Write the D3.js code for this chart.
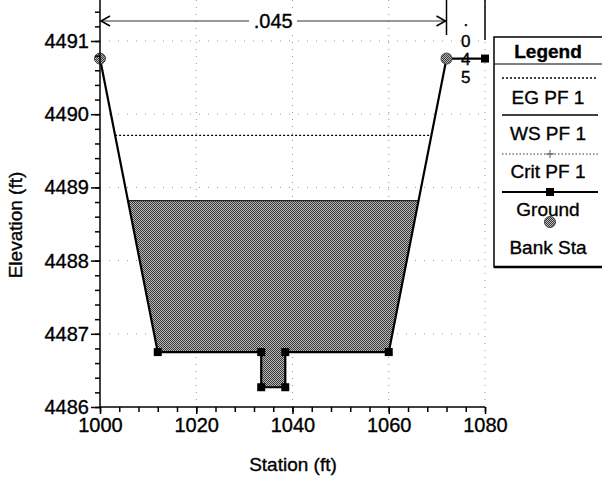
<!DOCTYPE html>
<html>
<head>
<meta charset="utf-8">
<script src="https://cdn.jsdelivr.net/npm/d3@7"></script>
<style>
  body { margin: 0; background: #fff; overflow: hidden; }
  text { font-family: "Liberation Sans", Arial, sans-serif; fill: #000; stroke: #000; stroke-width: 0.35; }
</style>
</head>
<body>
<div id="chartArea"></div>
<script>
const svgWidth = 602;
const svgHeight = 480;

// cross section data
const stations = [1000, 1012, 1033.5, 1033.5, 1038.5, 1038.5, 1060, 1072, 1080];
const elevations = [4490.76, 4486.75, 4486.75, 4486.27, 4486.27, 4486.75, 4486.75, 4490.76, 4490.76];
const bankStations = [1000, 1072];
const bankElevations = [4490.76, 4490.76];
const wsElevation = 4488.82;
const egElevation = 4489.71;
const nValues = ['.045', '.045'];
const xTicks = [1000, 1020, 1040, 1060, 1080];
const yTicks = [4486, 4487, 4488, 4489, 4490, 4491];
const legendItems = ['EG PF 1', 'WS PF 1', 'Crit PF 1', 'Ground', 'Bank Sta'];

const x = d3.scaleLinear().domain([1000, 1080]).range([100, 485]);
const y = d3.scaleLinear().domain([4486, 4491.56]).range([407, 0]);

const canvas = d3.select('#chartArea')
  .append('svg')
  .attr('width', svgWidth)
  .attr('height', svgHeight)
  .style('display', 'block');

const defs = canvas.append('defs');
const pat = defs.append('pattern')
  .attr('id', 'dither')
  .attr('width', 2)
  .attr('height', 2)
  .attr('patternUnits', 'userSpaceOnUse');
pat.append('rect').attr('width', 2).attr('height', 2).attr('fill', '#b8b8b8');
pat.append('rect').attr('width', 1).attr('height', 1).attr('fill', '#3a3a3a');
pat.append('rect').attr('x', 1).attr('y', 1).attr('width', 1).attr('height', 1).attr('fill', '#3a3a3a');

// grid
canvas.append('g').selectAll('line')
  .data(xTicks.slice(1))
  .join('line')
  .attr('x1', d => x(d)).attr('x2', d => x(d))
  .attr('y1', 0).attr('y2', y(4486))
  .attr('stroke', '#999').attr('stroke-dasharray', '1,6');

canvas.append('g').selectAll('line')
  .data(yTicks.slice(1))
  .join('line')
  .attr('x1', x(1000)).attr('x2', x(1080))
  .attr('y1', d => y(d)).attr('y2', d => y(d))
  .attr('stroke', '#999').attr('stroke-dasharray', '1,8');

// water fill: ground clipped at the water surface
function crossing(i, level) {
  const t = (level - elevations[i]) / (elevations[i + 1] - elevations[i]);
  return stations[i] + t * (stations[i + 1] - stations[i]);
}
const wet = [];
for (let i = 0; i < stations.length; i++) {
  if (elevations[i] < wsElevation) wet.push([stations[i], elevations[i]]);
  if (i < stations.length - 1 &&
      (elevations[i] - wsElevation) * (elevations[i + 1] - wsElevation) < 0) {
    wet.push([crossing(i, wsElevation), wsElevation]);
  }
}
canvas.append('path')
  .attr('d', d3.line().x(d => x(d[0])).y(d => y(d[1]))(wet) + 'Z')
  .attr('fill', 'url(#dither)');

canvas.append('line')
  .attr('x1', x(wet[0][0])).attr('x2', x(wet[wet.length - 1][0]))
  .attr('y1', y(wsElevation)).attr('y2', y(wsElevation))
  .attr('stroke', '#222').attr('stroke-width', 1.2);

// energy grade line spans the section at its elevation
canvas.append('line')
  .attr('x1', x(crossing(0, egElevation))).attr('x2', x(crossing(6, egElevation)))
  .attr('y1', y(egElevation)).attr('y2', y(egElevation))
  .attr('stroke', '#000').attr('stroke-width', 1.3).attr('stroke-dasharray', '2,2');

// ground
const groundPts = stations.map((s, i) => [s, elevations[i]]);
canvas.append('path')
  .attr('d', d3.line().x(d => x(d[0])).y(d => y(d[1]))(groundPts))
  .attr('fill', 'none').attr('stroke', '#000').attr('stroke-width', 2.2);

canvas.append('g').selectAll('rect')
  .data(groundPts)
  .join('rect')
  .attr('x', d => x(d[0]) - 4).attr('y', d => y(d[1]) - 4)
  .attr('width', 8).attr('height', 8).attr('fill', '#000');

canvas.append('g').selectAll('circle')
  .data(bankStations)
  .join('circle')
  .attr('cx', d => x(d)).attr('cy', (d, i) => y(bankElevations[i]))
  .attr('r', 5.5)
  .attr('fill', 'url(#dither)').attr('stroke', '#444').attr('stroke-width', 1);

// axes
const yAxis = canvas.append('g').attr('transform', `translate(${x(1000)},0)`)
  .call(d3.axisLeft(y).tickValues(yTicks).tickSize(9).tickPadding(2).tickFormat(d3.format('d')));
canvas.append('g').attr('transform', `translate(${x(1000)},0)`)
  .call(d3.axisLeft(y).tickValues(d3.range(44860, 44915, 2).map(d => d / 10)).tickSize(5).tickFormat(''))
  .select('.domain').remove();
yAxis.select('.domain').attr('d', `M0,0V${y(4486)}`);

const xAxis = canvas.append('g').attr('transform', `translate(0,${y(4486)})`)
  .call(d3.axisBottom(x).tickValues(xTicks).tickSize(7).tickPadding(4).tickFormat(d3.format('d')));
canvas.append('g').attr('transform', `translate(0,${y(4486)})`)
  .call(d3.axisBottom(x).tickValues(d3.range(1000, 1081, 4)).tickSize(5).tickFormat(''))
  .select('.domain').remove();
xAxis.select('.domain').attr('d', `M${x(1000)},0H${x(1080)}`);

canvas.selectAll('.domain, .tick line').attr('stroke', '#000').attr('stroke-width', 1.5);
canvas.selectAll('.tick text').attr('font-size', 20).attr('font-family', '"Liberation Sans", Arial, sans-serif');

canvas.append('text')
  .attr('transform', `translate(22,225) rotate(-90)`)
  .attr('text-anchor', 'middle').attr('font-size', 19)
  .text('Elevation (ft)');
canvas.append('text')
  .attr('x', 293).attr('y', 471)
  .attr('text-anchor', 'middle').attr('font-size', 19)
  .text('Station (ft)');

// Manning's n annotation
const nTop = 21;
canvas.append('line')
  .attr('x1', x(1000)).attr('x2', x(bankStations[1]))
  .attr('y1', nTop).attr('y2', nTop)
  .attr('stroke', '#333').attr('stroke-width', 1.2);
[[x(1000), 1], [x(bankStations[1]), -1]].forEach(([px, dir]) => {
  canvas.append('path')
    .attr('d', `M${px + dir * 10},${nTop - 5}L${px + dir},${nTop}L${px + dir * 10},${nTop + 5}`)
    .attr('fill', 'none').attr('stroke', '#000').attr('stroke-width', 1.5);
});
canvas.append('rect')
  .attr('x', 249).attr('y', nTop - 9).attr('width', 48).attr('height', 18).attr('fill', '#fff');
canvas.append('text')
  .attr('x', (x(1000) + x(bankStations[1])) / 2).attr('y', nTop + 7)
  .attr('text-anchor', 'middle').attr('font-size', 20)
  .text(nValues[0]);

canvas.append('line')
  .attr('x1', x(bankStations[1])).attr('x2', x(bankStations[1]))
  .attr('y1', 0).attr('y2', 35).attr('stroke', '#000').attr('stroke-width', 1.5);
canvas.append('line')
  .attr('x1', x(1080)).attr('x2', x(1080))
  .attr('y1', 0).attr('y2', 40).attr('stroke', '#000').attr('stroke-width', 1.5);
canvas.append('g').selectAll('text')
  .data(nValues[1].split(''))
  .join('text')
  .attr('x', (x(bankStations[1]) + x(1080)) / 2)
  .attr('y', (d, i) => [26, 47, 65, 83][i])
  .attr('text-anchor', 'middle').attr('font-size', 17)
  .text(d => d);

// legend
const lg = canvas.append('g').attr('transform', 'translate(494,37)');
lg.append('rect').attr('width', 140).attr('height', 230)
  .attr('fill', '#fff').attr('stroke', '#000').attr('stroke-width', 1.5);
lg.append('line').attr('x1', 0).attr('x2', 140).attr('y1', 230).attr('y2', 230)
  .attr('stroke', '#000').attr('stroke-width', 2.5);
lg.append('text').attr('x', 54).attr('y', 21)
  .attr('text-anchor', 'middle').attr('font-size', 19).attr('font-weight', 'bold')
  .text('Legend');
lg.append('line').attr('x1', 0).attr('x2', 140).attr('y1', 27).attr('y2', 27)
  .attr('stroke', '#000').attr('stroke-width', 1.2);

const sampleY = [41, 78, 117, 155, 185];
const labelY = [67, 103, 141, 179, 217];
const sampleStyles = [
  { dash: '2,2', width: 1.3 },
  { dash: null, width: 1.3 },
  { dash: '1.5,2', width: 0.8 },
  { dash: null, width: 2 }
];
sampleStyles.forEach((s, i) => {
  lg.append('line')
    .attr('x1', 8).attr('x2', 104).attr('y1', sampleY[i]).attr('y2', sampleY[i])
    .attr('stroke', '#000').attr('stroke-width', s.width)
    .attr('stroke-dasharray', s.dash);
});
lg.append('path').attr('d', `M56,${sampleY[2] - 4}V${sampleY[2] + 4}M52,${sampleY[2]}H60`)
  .attr('stroke', '#555').attr('stroke-width', 1);
lg.append('rect').attr('x', 52).attr('y', sampleY[3] - 4).attr('width', 8).attr('height', 8).attr('fill', '#000');
lg.append('circle').attr('cx', 56).attr('cy', sampleY[4]).attr('r', 5.5)
  .attr('fill', 'url(#dither)').attr('stroke', '#444');

lg.selectAll('text.item')
  .data(legendItems)
  .join('text')
  .attr('class', 'item')
  .attr('x', 54).attr('y', (d, i) => labelY[i])
  .attr('text-anchor', 'middle').attr('font-size', 19)
  .text(d => d);
</script>
</body>
</html>
